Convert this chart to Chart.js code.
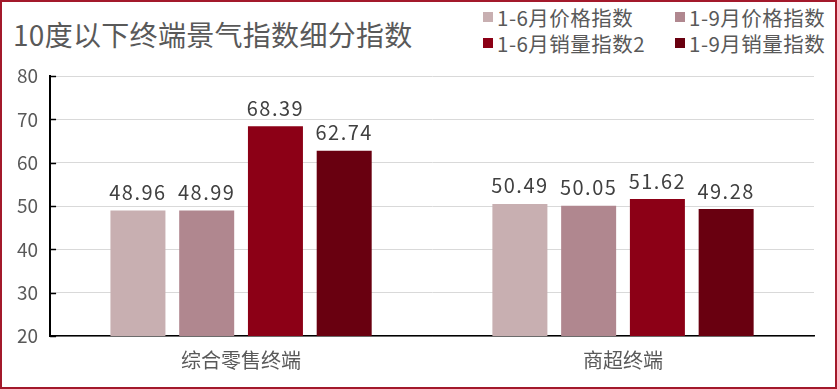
<!DOCTYPE html>
<html>
<head>
<meta charset="utf-8">
<script src="https://cdn.jsdelivr.net/npm/chart.js@4"></script>
<style>
  html, body { margin:0; padding:0; background:#fff; }
  #wrap { position:relative; width:837px; height:389px; box-sizing:border-box; border:2px solid #a3192b; }
  #title { position:absolute; left:11px; top:12px; font:28px "Noto Sans CJK SC", sans-serif; letter-spacing:0.3px; color:#595959; white-space:nowrap; }
  #legend { position:absolute; left:481px; top:2px; display:grid; grid-template-columns:192px auto; font:20.5px "Noto Sans CJK SC", sans-serif; letter-spacing:0.5px; color:#595959; }
  #legend div { display:flex; align-items:center; height:26px; white-space:nowrap; }
  #legend span.sw { display:inline-block; width:10px; height:10px; margin-right:4px; }
  canvas { position:absolute; left:0; top:0; }
</style>
</head>
<body>
<div id="wrap">
  <div id="title">10度以下终端景气指数细分指数</div>
  <div id="legend"></div>
  <canvas id="c" width="833" height="385"></canvas>
</div>
<script>
const categories = ['综合零售终端', '商超终端'];
const seriesNames = ['1-6月价格指数', '1-9月价格指数', '1-6月销量指数2', '1-9月销量指数'];
const price6 = [48.96, 50.49];
const price9 = [48.99, 50.05];
const volume6 = [68.39, 51.62];
const volume9 = [62.74, 49.28];
const colors = ['#c8afb1', '#b0878f', '#8c0016', '#690010'];
const yTicks = [20, 30, 40, 50, 60, 70, 80];

(function(){
  const values = [price6, price9, volume6, volume9];

  const legend = document.getElementById('legend');
  seriesNames.forEach((n, i) => {
    const d = document.createElement('div');
    d.innerHTML = '<span class="sw" style="background:' + colors[i] + '"></span>' + n;
    legend.appendChild(d);
  });

  const valueLabels = {
    id: 'valueLabels',
    afterDatasetsDraw(chart){
      const ctx = chart.ctx;
      ctx.save();
      ctx.font = '20px "Noto Sans CJK SC", sans-serif';
      ctx.letterSpacing = '1.5px';
      ctx.fillStyle = '#404040';
      ctx.textAlign = 'center';
      ctx.textBaseline = 'bottom';
      chart.data.datasets.forEach((ds, i) => {
        chart.getDatasetMeta(i).data.forEach((bar, j) => {
          ctx.fillText(ds.data[j].toFixed(2), bar.x, bar.y - 8);
        });
      });
      ctx.restore();
    }
  };

  const innerTicks = {
    id: 'innerTicks',
    afterDraw(chart){
      const ctx = chart.ctx, y = chart.scales.y, left = chart.chartArea.left;
      ctx.save();
      ctx.strokeStyle = '#000';
      ctx.lineWidth = 1.5;
      y.ticks.forEach(t => {
        const py = Math.round(y.getPixelForValue(t.value)) + 0.5;
        ctx.beginPath(); ctx.moveTo(left, py); ctx.lineTo(left + 6, py); ctx.stroke();
      });
      ctx.restore();
    }
  };

  new Chart(document.getElementById('c'), {
    type: 'bar',
    data: {
      labels: categories,
      datasets: seriesNames.map((n, i) => ({
        label: n,
        data: values[i],
        backgroundColor: colors[i],
        barPercentage: 0.8,
        categoryPercentage: 0.72
      }))
    },
    options: {
      responsive: false,
      animation: false,
      layout: { padding: { top: 74, right: 21, bottom: 3, left: 3 } },
      plugins: { legend: { display: false }, tooltip: { enabled: false } },
      scales: {
        x: {
          grid: { display: false, drawTicks: false },
          border: { color: '#000', width: 1.5 },
          ticks: { color: '#595959', font: { size: 20, family: '"Noto Sans CJK SC", sans-serif' }, padding: 12 }
        },
        y: {
          min: 20, max: 80,
          afterBuildTicks: s => { s.ticks = yTicks.map(v => ({ value: v })); },
          grid: { color: '#d9d9d9', drawTicks: false },
          border: { color: '#000', width: 2 },
          ticks: { color: '#595959', font: { size: 19, family: '"Noto Sans CJK SC", sans-serif' }, padding: 12 }
        }
      }
    },
    plugins: [valueLabels, innerTicks]
  });
})();
</script>
</body>
</html>
